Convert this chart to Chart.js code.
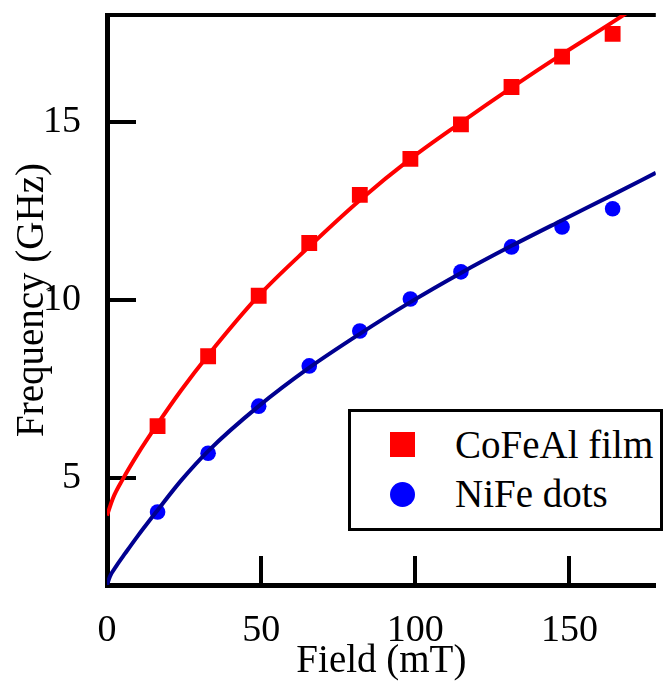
<!DOCTYPE html>
<html>
<head>
<meta charset="utf-8">
<title>Frequência x Campo</title>
<script src="https://cdn.jsdelivr.net/npm/chart.js@4"></script>
<style>
    body { margin: 0; background: #fff; }
    #wrap { position: relative; width: 667px; height: 684px; }
    #legenda {
        position: absolute; left: 348px; top: 409px; width: 315px; height: 122px;
        border: 3px solid #000; box-sizing: border-box; background: #fff;
        font-family: "Liberation Serif", "Times New Roman", serif; font-size: 39px; line-height: 1;
    }
    #legenda .marca { position: absolute; width: 25px; height: 25px; }
    #legenda .texto { position: absolute; left: 104px; white-space: nowrap; color: #000; }
</style>
</head>
<body>
<div id="wrap">
    <canvas id="graficoFrequencia" width="667" height="684"></canvas>
    <div id="legenda"></div>
</div>
<script>
// ======== DADOS ========
// pontos medidos (campo em mT, frequência em GHz)
const campoMedido = [16.4, 32.8, 49.2, 65.6, 82, 98.4, 114.8, 131.2, 147.6, 164];
const freqCoFeAl = [6.46, 8.42, 10.12, 11.6, 12.95, 13.96, 14.93, 15.98, 16.83, 17.47];
const freqNiFe = [4.05, 5.70, 7.02, 8.15, 9.13, 10.03, 10.79, 11.49, 12.05, 12.56];

// curvas de ajuste
const campoAjusteCoFeAl = [0, 2, 5, 10, 16.4, 24, 32.8, 49.2, 65.6, 82, 98.4, 114.8, 131.2, 147.6, 164, 178];
const ajusteCoFeAl = [3.95, 4.45, 4.95, 5.68, 6.52, 7.46, 8.45, 10.12, 11.5, 12.8, 13.96, 14.98, 15.96, 16.9, 17.8, 18.6];
const campoAjusteNiFe = [0, 1, 3, 6, 10, 16.4, 24, 32.8, 49.2, 65.6, 82, 98.4, 114.8, 131.2, 147.6, 164, 178];
const ajusteNiFe = [2.0, 2.25, 2.53, 2.9, 3.38, 4.1, 4.93, 5.76, 7.02, 8.1, 9.05, 9.94, 10.76, 11.52, 12.24, 12.95, 13.57];

const ticksCampo = [0, 50, 100, 150];
const ticksFreq = [5, 10, 15];

const fonteSerifa = "'Liberation Serif', 'Times New Roman', serif";

function pares(xs, ys) {
    return xs.map((v, i) => ({ x: v, y: ys[i] }));
}

// ======== MOLDURA: linha superior e ticks para dentro ========
const moldura = {
    id: "moldura",
    beforeDatasetsDraw(chart) {
        const { ctx, chartArea: a, scales: { x, y } } = chart;
        ctx.save();
        ctx.strokeStyle = "#000";
        ctx.lineWidth = 4;
        ctx.beginPath();
        ctx.moveTo(a.left - 2, a.top);
        ctx.lineTo(a.right, a.top);
        ticksCampo.forEach(v => {
            if (v === 0) return;
            const px = Math.round(x.getPixelForValue(v));
            ctx.moveTo(px, a.bottom);
            ctx.lineTo(px, a.bottom - 29);
        });
        ticksFreq.forEach(v => {
            const py = Math.round(y.getPixelForValue(v));
            ctx.moveTo(a.left, py);
            ctx.lineTo(a.left + 29, py);
        });
        ctx.stroke();
        ctx.restore();
    }
};

// ======== GRÁFICO ========
const grafico = new Chart(document.getElementById("graficoFrequencia"), {
    type: "scatter",
    data: {
        datasets: [
            {
                label: "CoFeAl film",
                data: pares(campoMedido, freqCoFeAl),
                pointStyle: "rect",
                pointRadius: 11.2,
                pointBackgroundColor: "#ff0000",
                pointBorderWidth: 0,
                showLine: false,
                order: 2
            },
            {
                label: "NiFe dots",
                data: pares(campoMedido, freqNiFe),
                pointStyle: "circle",
                pointRadius: 7.8,
                pointBackgroundColor: "#0000ff",
                pointBorderWidth: 0,
                showLine: false,
                order: 2
            },
            {
                data: pares(campoAjusteCoFeAl, ajusteCoFeAl),
                showLine: true,
                borderColor: "#ff0000",
                borderWidth: 4,
                pointRadius: 0,
                cubicInterpolationMode: "monotone",
                order: 1
            },
            {
                data: pares(campoAjusteNiFe, ajusteNiFe),
                showLine: true,
                borderColor: "#000090",
                borderWidth: 4,
                pointRadius: 0,
                cubicInterpolationMode: "monotone",
                order: 1
            }
        ]
    },
    options: {
        responsive: false,
        animation: false,
        layout: { padding: { top: 15, right: 0, bottom: 0, left: 0 } },
        plugins: {
            legend: { display: false },
            tooltip: { enabled: false }
        },
        scales: {
            x: {
                type: "linear",
                min: 0,
                max: 178,
                afterBuildTicks: s => { s.ticks = ticksCampo.map(v => ({ value: v })); },
                afterFit: s => { s.height = 99; s.paddingLeft = 0; s.paddingRight = 0; },
                grid: { display: false },
                border: { display: true, color: "#000", width: 5 },
                ticks: {
                    color: "#000",
                    padding: 19,
                    maxRotation: 0,
                    font: { family: fonteSerifa, size: 38, lineHeight: 1 }
                },
                title: {
                    display: true,
                    text: "Field (mT)",
                    color: "#000",
                    padding: { top: 0, bottom: 3 },
                    font: { family: fonteSerifa, size: 39, lineHeight: 1 }
                }
            },
            y: {
                type: "linear",
                min: 2,
                max: 18,
                afterBuildTicks: s => { s.ticks = ticksFreq.map(v => ({ value: v })); },
                afterFit: s => { s.width = 107; s.paddingTop = 0; s.paddingBottom = 0; },
                grid: { display: false },
                border: { display: true, color: "#000", width: 5 },
                ticks: {
                    color: "#000",
                    padding: 18,
                    font: { family: fonteSerifa, size: 38, lineHeight: 1 }
                },
                title: {
                    display: true,
                    text: "Frequency (GHz)",
                    color: "#000",
                    padding: { top: 13, bottom: 0 },
                    font: { family: fonteSerifa, size: 39, lineHeight: 1 }
                }
            }
        }
    },
    plugins: [moldura]
});

// ======== LEGENDA ========
const legenda = document.getElementById("legenda");
grafico.data.datasets.filter(ds => ds.label).forEach(function(ds, i) {
    const marca = document.createElement("div");
    marca.className = "marca";
    marca.style.left = (51 - 12.5) + "px";
    marca.style.top = (32 + i * 50 - 12.5) + "px";
    marca.style.background = ds.pointBackgroundColor;
    if (ds.pointStyle === "circle") marca.style.borderRadius = "50%";
    legenda.appendChild(marca);

    const texto = document.createElement("span");
    texto.className = "texto";
    texto.style.top = (12.5 + i * 49) + "px";
    texto.textContent = ds.label;
    legenda.appendChild(texto);
});
</script>
</body>
</html>
